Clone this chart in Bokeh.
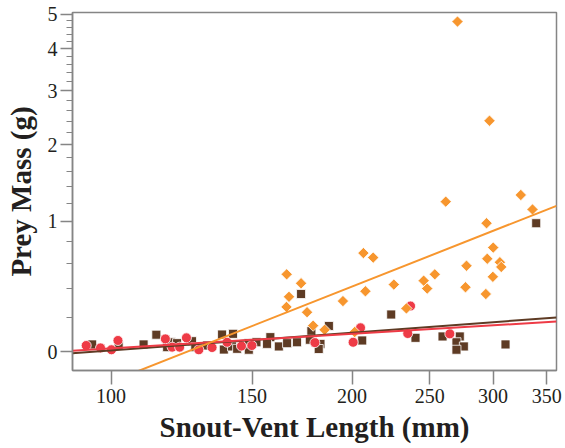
import numpy as np
from bokeh.plotting import figure
from bokeh.models import FixedTicker, CustomJSTickFormatter, Range1d, BasicTickFormatter
from bokeh.embed import file_html
from bokeh.resources import INLINE

# ---- data (Snout-vent length in mm, prey mass in g) ----
orange_svl = [270.8, 296.9, 324.9, 336.0, 261.8, 294.4, 300.1, 295.0, 305.9, 307.1,
              277.9, 253.7, 245.7, 248.2, 225.5, 277.1, 299.8, 293.8, 233.8, 206.6,
              212.5, 207.8, 194.8, 165.7, 172.7, 166.8, 165.6, 175.7, 178.8, 184.8, 201.5]
orange_mass = [4.77, 2.41, 1.30, 1.13, 1.22, 0.98, 0.74, 0.64, 0.61, 0.57,
               0.58, 0.51, 0.46, 0.40, 0.43, 0.41, 0.49, 0.36, 0.26, 0.69,
               0.65, 0.38, 0.31, 0.51, 0.44, 0.34, 0.27, 0.235, 0.15, 0.125, 0.112]

red_svl = [93.1, 97.0, 100.1, 102.0, 116.9, 119.2, 121.8, 124.2, 128.7, 133.7,
           139.6, 145.5, 149.9, 179.7, 200.6, 204.9, 234.7, 236.6, 264.9]
red_mass = [0.035, 0.022, 0.012, 0.063, 0.072, 0.026, 0.026, 0.078, 0.012, 0.024,
            0.053, 0.032, 0.035, 0.051, 0.053, 0.137, 0.103, 0.276, 0.101]

brown_svl = [94.7, 102.2, 109.8, 113.9, 117.5, 118.8, 120.9, 126.2, 127.4, 131.8,
             137.6, 142.0, 138.3, 141.6, 143.7, 148.6, 148.6, 151.9, 158.1, 156.6,
             162.0, 165.9, 170.7, 172.7, 187.1, 177.9, 177.1, 182.6, 181.7, 205.9,
             223.8, 240.0, 259.4, 272.6, 270.0, 275.8, 270.0, 310.9, 339.6]
brown_mass = [0.041, 0.035, 0.041, 0.096, 0.026, 0.053, 0.048, 0.059, 0.026, 0.035,
              0.097, 0.101, 0.013, 0.030, 0.017, 0.048, 0.012, 0.053, 0.082, 0.044,
              0.030, 0.048, 0.053, 0.36, 0.148, 0.117, 0.067, 0.044, 0.016, 0.063,
              0.22, 0.078, 0.086, 0.086, 0.053, 0.030, 0.012, 0.041, 0.98]

x_ticks = [100, 150, 200, 250, 300, 350]
y_ticks = [0, 1, 2, 3, 4, 5]
y_minor = [round(0.2 * i, 1) for i in range(26)]

x_lim = (89.5, 360.0)
y_lim = (-0.0935, 5.055)

ORANGE = "#F7962E"
RED = "#EE3B46"
BROWN = "#5E3B24"
AXIS_GRAY = "#858585"
TEXT = "#231F20"
FONT = "Liberation Serif"

def ty(v):
    return np.log1p(np.asarray(v, dtype=float))

p = figure(width=565, height=448, x_axis_type="log",
           x_range=Range1d(*x_lim), y_range=Range1d(*ty(y_lim)),
           output_backend="svg", toolbar_location=None,
           min_border_left=72, min_border_right=9, min_border_top=12, min_border_bottom=78)

p.grid.visible = False
p.background_fill_color = "white"
p.border_fill_color = "white"
p.outline_line_color = AXIS_GRAY
p.outline_line_width = 1.5

# points
p.scatter(brown_svl, ty(brown_mass), marker="square", size=9,
          fill_color=BROWN, line_color="white", line_width=0.8)
p.scatter(red_svl, ty(red_mass), marker="circle", size=10,
          fill_color=RED, line_color="white", line_width=0.8)
p.scatter(orange_svl, ty(orange_mass), marker="square", angle=np.pi / 4, size=8,
          fill_color=ORANGE, line_color="white", line_width=0.8)

# regression lines (log SVL vs log(1+mass))
xs = np.array(x_lim)
for svl, mass, col in [(brown_svl, brown_mass, BROWN), (red_svl, red_mass, RED),
                       (orange_svl, orange_mass, ORANGE)]:
    b, a = np.polyfit(np.log(svl), np.log1p(mass), 1)
    p.line(xs, b * np.log(xs) + a, line_color=col, line_width=2)

# axes
for ax in (p.xaxis[0], p.yaxis[0]):
    ax.axis_line_color = AXIS_GRAY
    ax.axis_line_width = 1.5
    ax.major_tick_line_color = AXIS_GRAY
    ax.major_tick_line_width = 1.5
    ax.minor_tick_line_color = AXIS_GRAY
    ax.minor_tick_line_width = 1.2
    ax.major_tick_in = 0
    ax.minor_tick_in = 0
    ax.major_label_text_font = FONT
    ax.major_label_text_font_size = "20px"
    ax.major_label_text_color = TEXT
    ax.axis_label_text_font = FONT
    ax.axis_label_text_font_size = "29px"
    ax.axis_label_text_font_style = "bold"
    ax.axis_label_text_color = TEXT

p.xaxis.ticker = FixedTicker(ticks=x_ticks)
p.xaxis.formatter = BasicTickFormatter()
p.xaxis.major_tick_out = 14
p.xaxis.minor_tick_out = 0
p.xaxis.major_label_standoff = 4
p.xaxis.axis_label = "Snout-Vent Length (mm)"
p.xaxis.axis_label_standoff = 5

p.yaxis.ticker = FixedTicker(ticks=list(ty(y_ticks)), minor_ticks=list(ty(y_minor)))
p.yaxis.formatter = CustomJSTickFormatter(code="return String(Math.round(Math.exp(tick) - 1));")
p.yaxis.major_tick_out = 12
p.yaxis.minor_tick_out = 6
p.yaxis.major_label_standoff = 3
p.yaxis.axis_label = "Prey Mass (g)"
p.yaxis.axis_label_standoff = 8

open("out.html", "w").write(file_html(p, INLINE))
